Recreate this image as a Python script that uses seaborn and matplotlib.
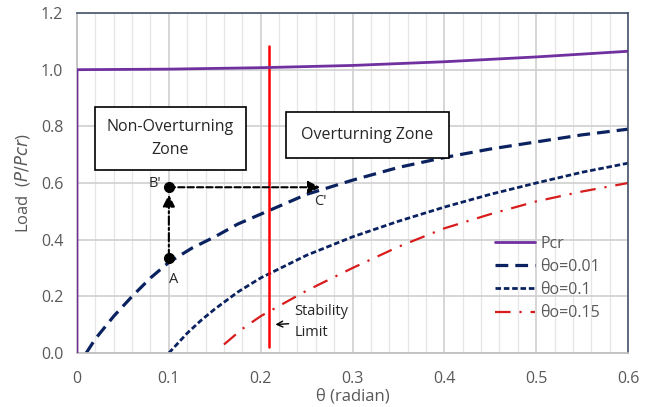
import numpy as np
import pandas as pd
import matplotlib.pyplot as plt
import seaborn as sns
from matplotlib.ticker import MultipleLocator

# values
theta_pcr = [0.0, 0.0, 0.1, 0.2, 0.3, 0.4, 0.5, 0.6]
load_pcr = [0.0, 1.0, 1.002, 1.007, 1.015, 1.028, 1.045, 1.065]

theta_001 = [0.01, 0.02, 0.03, 0.04, 0.06, 0.08, 0.1, 0.125, 0.15, 0.175, 0.2, 0.25, 0.3, 0.35, 0.4, 0.45, 0.5, 0.55, 0.6]
load_001 = [0.0, 0.05, 0.09, 0.13, 0.2, 0.265, 0.32, 0.37, 0.41, 0.455, 0.49, 0.56, 0.61, 0.655, 0.69, 0.72, 0.745, 0.77, 0.79]

theta_01 = [0.1, 0.11, 0.12, 0.135, 0.15, 0.175, 0.2, 0.25, 0.3, 0.35, 0.4, 0.45, 0.5, 0.55, 0.6]
load_01 = [0.0, 0.035, 0.07, 0.115, 0.155, 0.215, 0.265, 0.345, 0.41, 0.465, 0.515, 0.56, 0.6, 0.638, 0.67]

theta_015 = [0.16, 0.18, 0.2, 0.25, 0.3, 0.35, 0.4, 0.45, 0.5, 0.55, 0.6]
load_015 = [0.03, 0.085, 0.13, 0.22, 0.3, 0.375, 0.44, 0.49, 0.535, 0.57, 0.6]

stab_theta = 0.209
stab_range = [0.02, 1.085]
pt_A = (0.1, 0.335)
pt_B = (0.1, 0.585)
pt_C = (0.265, 0.585)

sns.set_theme(style='white')
plt.rcParams['font.family'] = ['Open Sans', 'DejaVu Sans']

fig = plt.figure(figsize=(6.55, 4.07), dpi=100)
ax = fig.add_axes([0.1176, 0.1327, 0.8412, 0.8353])

navy = '#0B2260'
sns.lineplot(x=theta_pcr, y=load_pcr, ax=ax, color='#7030A0', lw=2, label='Pcr',
             sort=False, estimator=None)
sns.lineplot(x=theta_001, y=load_001, ax=ax, color=navy, lw=2.3, label='θo=0.01')
sns.lineplot(x=theta_01, y=load_01, ax=ax, color=navy, lw=2.0, label='θo=0.1')
sns.lineplot(x=theta_015, y=load_015, ax=ax, color='#D81B1B', lw=1.6, label='θo=0.15')
lines = ax.get_lines()
lines[0].set_zorder(4)
lines[1].set_dashes([4, 2.2])
lines[2].set_dashes([2, 1])
lines[3].set_dashes([7, 4, 1, 4])

ax.plot([stab_theta, stab_theta], stab_range, color='#FF0000', lw=1.8)

# A -> B' -> C'
ax.annotate('', xy=(pt_B[0], pt_B[1] - 0.025), xytext=pt_A,
            arrowprops=dict(arrowstyle='-|>', color='black', lw=1.5, ls=(0, (4, 1.5, 1, 1.5)),
                            mutation_scale=18, shrinkA=0, shrinkB=0))
ax.annotate('', xy=pt_C, xytext=pt_B,
            arrowprops=dict(arrowstyle='-|>', color='black', lw=1.5, ls=(0, (3, 1.5)),
                            mutation_scale=18, shrinkA=0, shrinkB=0))
ax.plot([pt_A[0], pt_B[0]], [pt_A[1], pt_B[1]], 'o', color='black', ms=7, zorder=5)
ax.text(0.1055, 0.26, 'A', ha='center', va='center', fontsize=10.5)
ax.text(0.092, 0.6, "B'", ha='right', va='center', fontsize=10.5)
ax.text(0.2645, 0.535, "C'", ha='center', va='center', fontsize=10.5)

ax.text(0.1015, 0.756, 'Non-Overturning\nZone', ha='center', va='center', fontsize=11.5,
        linespacing=1.6,
        bbox=dict(boxstyle='square,pad=0.75', fc='white', ec='black', lw=1.2))
ax.text(0.316, 0.77, 'Overturning Zone', ha='center', va='center', fontsize=11.5,
        bbox=dict(boxstyle='square,pad=0.95', fc='white', ec='black', lw=1.2))

ax.annotate('Stability\nLimit', xy=(0.213, 0.1), xytext=(0.237, 0.11),
            ha='left', va='center', fontsize=10.5, linespacing=1.5,
            arrowprops=dict(arrowstyle='->', color='black', lw=1))

ax.set_xlim(0, 0.6)
ax.set_ylim(0, 1.2)
ax.xaxis.set_minor_locator(MultipleLocator(0.02))
ax.set_xticks([0, 0.1, 0.2, 0.3, 0.4, 0.5, 0.6])
ax.set_xticklabels(['0', '0.1', '0.2', '0.3', '0.4', '0.5', '0.6'])
ax.set_yticks([0, 0.2, 0.4, 0.6, 0.8, 1.0, 1.2])
ax.set_yticklabels(['0.0', '0.2', '0.4', '0.6', '0.8', '1.0', '1.2'])
ax.grid(True, which='major', color='#D0D0D0', lw=1.2)
ax.grid(True, which='minor', axis='x', color='#E6E6E6', lw=0.9)
ax.tick_params(axis='both', which='both', length=0, labelsize=11.5, labelcolor='#595959')
ax.tick_params(axis='x', pad=13)
ax.tick_params(axis='y', pad=10)
ax.set_axisbelow(True)

for side in ['top', 'right']:
    ax.spines[side].set_color('#44546A')
    ax.spines[side].set_linewidth(1.2)
ax.spines['bottom'].set_color('#BFBFBF')
ax.spines['left'].set_color('#BFBFBF')

ax.set_xlabel('θ (radian)', fontsize=12, color='#595959', labelpad=1)
ax.set_ylabel('Load  ($\\it{P/Pcr}$)', fontsize=12, color='#595959', labelpad=6)

leg = ax.legend(loc='upper left', bbox_to_anchor=(0.758, 0.345), frameon=False, fontsize=11.5,
                handlelength=2.5, labelspacing=0.45, handletextpad=0.35,
                borderpad=0, borderaxespad=0)
for t in leg.get_texts():
    t.set_color('#595959')

fig.savefig('out.png', dpi=100)
